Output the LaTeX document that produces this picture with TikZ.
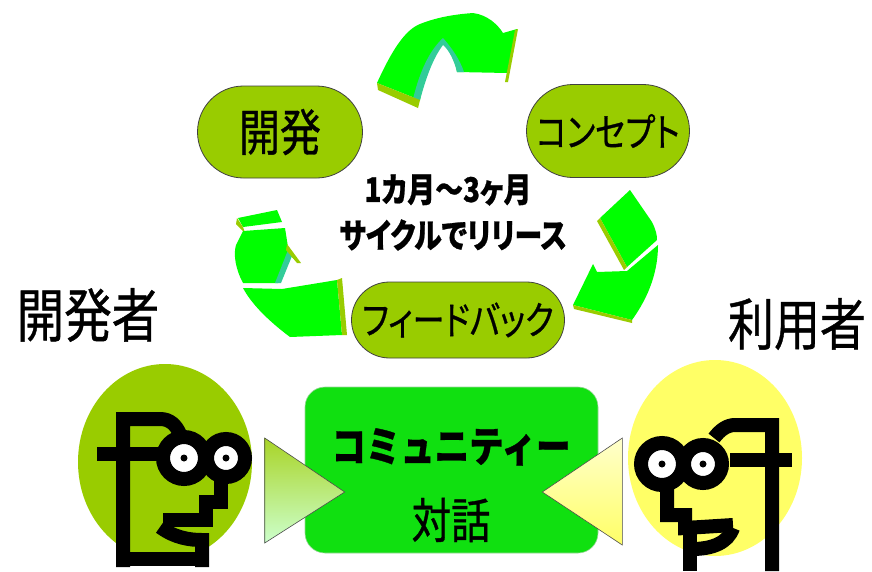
\documentclass[tikz,border=0pt]{standalone}
\usepackage{fontspec}
\usepackage{graphicx}
\usetikzlibrary{shapes.misc,calc}
\newfontfamily\jp[RawFeature=+palt, FakeBold=0.8]{Noto Sans CJK JP}
\newfontfamily\jpfull[FakeBold=0.8]{Noto Sans CJK JP}
\newcommand\jtext[2]{{\jp\fontsize{#1}{#1}\selectfont\scalebox{0.82}[1]{#2}}}
\newcommand\jbold[2]{{\jp\bfseries\fontsize{#1}{#1}\selectfont\scalebox{0.82}[1]{#2}}}
\newcommand\jboldfull[2]{{\jpfull\bfseries\fontsize{#1}{#1}\selectfont\scalebox{0.82}[1]{#2}}}
\definecolor{pillgreen}{HTML}{99CC00}
\definecolor{arrowgreen}{HTML}{00FF00}
\definecolor{arrowteal}{HTML}{33CC99}
\definecolor{boxgreen}{HTML}{10E010}
\definecolor{facegreen}{HTML}{99CC00}
\definecolor{faceyellow}{HTML}{FFFF66}
\tikzset{
  pill/.style={rounded rectangle, draw=black!75, line width=0.8pt, fill=pillgreen, inner sep=0pt},
  label/.style={inner sep=0pt, text=black},
  face/.style={line width=14pt, draw=black, line cap=butt, line join=miter},
  eye/.style={line width=14pt, draw=black, fill=white},
  pupil/.style={fill=black},
  side/.style={fill=pillgreen},
  pointer/.style={draw=black!70, line width=0.6pt},
}
\begin{document}
\begin{tikzpicture}[x=1pt,y=-1pt]
\useasboundingbox[fill=white] (0,0) rectangle (872,571);

% ---- cycle arrows ----
% top arrow
\fill[arrowgreen] (377,83) .. controls (392,50) and (405,30) .. (420,24)
  .. controls (440,16) and (460,14) .. (473,13)
  .. controls (488,15) and (498,25) .. (503,33) -- (517,29) -- (507,82) -- (507,73) -- (457,72)
  .. controls (455,60) and (450,50) .. (443,42)
  .. controls (432,55) and (425,75) .. (420,100) -- cycle;
\fill[arrowteal] (413,99) .. controls (420,70) and (430,50) .. (443,38)
  .. controls (452,48) and (460,60) .. (464,72) -- (457,72)
  .. controls (454,60) and (449,50) .. (443,45)
  .. controls (433,58) and (426,78) .. (420,100) -- cycle;
\fill[side] (377,83) -- (420,100) -- (418,108) -- (378,90) -- cycle;
\fill[side] (505,82) -- (515,30) -- (518,29) -- (508,82) -- cycle;

% right arrow
\fill[arrowgreen] (600,218) -- (630,190) -- (652,222) .. controls (656,230) and (657,235) .. (657,240) -- (627,267) -- cycle;
\fill[side] (597,221) -- (600,218) -- (627,267) -- (624,270) -- cycle;
\fill[arrowgreen] (597,272) -- (627,271) -- (658,245) .. controls (658,270) and (650,295) .. (632,320) -- (573,305) -- (593,264) -- cycle;
\fill[side] (573,305) -- (632,320) -- (632,323) -- (574,309) -- cycle;

% left arrow
\fill[arrowgreen] (238,218) -- (277,210) -- (282,222) -- (243,227) -- cycle;
\fill[side] (237,218) -- (243,227) -- (245,233) -- (236,224) -- cycle;
\fill[arrowgreen] (243,231) -- (285,228) -- (288,247) -- (300,263) -- (289,255) -- (278,283) -- (243,283)
  .. controls (236,270) and (233,255) .. (236,245) -- cycle;
\fill[arrowteal] (288,250) -- (292,256) -- (281,283) -- (275,283) -- cycle;
\fill[side] (287,244) -- (301,263) -- (297,263) -- (286,250) -- cycle;
\fill[arrowgreen] (243,288) -- (282,289) -- (337,280) -- (342,335) -- (290,337)
  .. controls (270,322) and (252,305) .. (243,288) -- cycle;
\fill[side] (337,280) -- (342,278) -- (347,335) -- (342,335) -- cycle;

% ---- stages ----
\node[pill, minimum width=165pt, minimum height=92pt] (dev) at (280,132) {\jtext{50}{開発}};
\node[pill, minimum width=163pt, minimum height=93pt] (concept) at (608,131) {\jtext{39}{コンセプト}};
\node[pill, minimum width=213pt, minimum height=76pt] (feedback) at (458,320) {\jtext{39}{フィードバック}};

\node[label] (cycle1) at (448,190) {\jbold{34}{1カ月～3ヶ月}};
\node[label] (cycle2) at (453,235) {\jbold{34}{サイクルでリリース}};

% ---- roles ----
\node[label] (devrole) at (88,315) {\jtext{58}{開発者}};
\node[label] (userrole) at (797,324) {\jtext{56}{利用者}};

% ---- community ----
\node[draw=green!60!black!40, line width=0.6pt, fill=boxgreen, rounded corners=20pt,
      minimum width=293pt, minimum height=166pt] (comm) at (451.5,470) {};
\node[label] (commtitle) at (451,447) {\jboldfull{42}{コミュニティー}};
\node[label] (commtalk) at (451,520) {\jtext{48}{対話}};

% ---- faces ----
\fill[facegreen] (165,462) ellipse [x radius=87, y radius=98];
\fill[faceyellow] (715,458) ellipse [x radius=87, y radius=98];

% developer face
\draw[face] (123,567) -- (123,419) -- (160,419) .. controls (170,419) and (176,425) .. (180,434);
\draw[face] (97,454) -- (160,454);
\draw[face] (221,470) -- (221,502) -- (206,502) -- (206,520) -- (163,520);
\draw[face] (160,527) .. controls (175,538) and (190,540) .. (202,540) -- (202,567);
\draw[face] (123,559) -- (209,559);
\draw[eye] (184,458) circle [radius=21];
\draw[eye] (226,458) circle [radius=19];
\fill[pupil] (184,458) circle [radius=3.5];
\fill[pupil] (226,458) circle [radius=3.5];

% user face
\draw[face] (772,571) -- (772,425) -- (735,425) .. controls (727,425) and (720,430) .. (714,438);
\draw[face] (730,460) -- (792,460);
\draw[face] (667,486) -- (667,515) -- (685,515) -- (685,528) -- (733,525);
\draw[face] (733,528) .. controls (728,543) and (712,549) .. (692,549);
\draw[face] (690,533) -- (690,571);
\draw[eye] (662,464) circle [radius=21];
\draw[eye] (703,464) circle [radius=19];
\fill[pupil] (662,464) circle [radius=3.5];
\fill[pupil] (703,464) circle [radius=3.5];

% ---- pointers into the community ----
\draw[pointer, top color=pillgreen!85, bottom color=green!20]
  ($(comm.west)+(-40,-32)$) -- ($(comm.west)+(40,22)$) -- ($(comm.west)+(-40,73)$) -- cycle;
\draw[pointer, top color=yellow!20, bottom color=faceyellow]
  ($(comm.east)+(24,-32)$) -- ($(comm.east)+(-56,22)$) -- ($(comm.east)+(24,75)$) -- cycle;
\end{tikzpicture}
\end{document}
